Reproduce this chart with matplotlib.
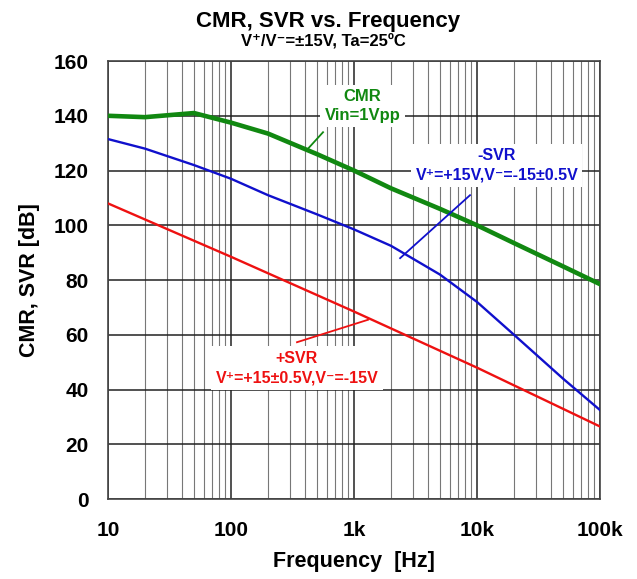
import matplotlib.pyplot as plt
from matplotlib.ticker import FixedLocator, NullFormatter

plt.rcParams["font.family"] = ["Liberation Sans", "DejaVu Sans"]

# Data
freq_cmr = [10, 20, 50, 100, 200, 500, 1000, 2000, 5000, 10000, 20000, 50000, 100000]
cmr = [140, 139.5, 141, 137.5, 133.5, 126, 120, 113.5, 106, 100, 93.5, 85, 78.5]

freq_nsvr = [10, 20, 50, 100, 200, 500, 1000, 2000, 5000, 10000, 20000, 50000, 100000]
nsvr = [131.5, 128, 122, 117, 111, 104, 98.5, 92.5, 82, 72, 60, 44, 32.5]

freq_psvr = [10, 100, 1000, 10000, 100000]
psvr = [108, 88.5, 68.5, 48, 26.5]

x_ticks = [10, 100, 1000, 10000, 100000]
x_labels = ["10", "100", "1k", "10k", "100k"]
y_ticks = [0, 20, 40, 60, 80, 100, 120, 140, 160]

fig = plt.figure(figsize=(6.37, 5.79), dpi=100)
ax = fig.add_axes([0.1695, 0.138, 0.7725, 0.7566])

ax.plot(freq_cmr, cmr, color="#118811", lw=3.3, zorder=3)
ax.plot(freq_nsvr, nsvr, color="#1010cc", lw=1.7, zorder=3)
ax.plot(freq_psvr, psvr, color="#ee1111", lw=1.7, zorder=3)

ax.set_xscale("log")
ax.set_xlim(10, 100000)
ax.set_ylim(0, 160)

ax.set_xticks(x_ticks)
ax.set_xticklabels(x_labels)
minor = [m * 10 ** e for e in range(1, 5) for m in range(2, 10)]
ax.xaxis.set_minor_locator(FixedLocator(minor))
ax.xaxis.set_minor_formatter(NullFormatter())
ax.set_yticks(y_ticks)

ax.grid(which="major", color="#222222", lw=1.1)
ax.grid(which="minor", axis="x", color="#777777", lw=0.8)
ax.tick_params(axis="x", which="both", length=0, pad=16)
ax.tick_params(axis="y", which="both", length=0, pad=14)
for lbl in ax.get_xticklabels() + ax.get_yticklabels():
    lbl.set_fontsize(15)
    lbl.set_fontweight("bold")
for s in ax.spines.values():
    s.set_color("#444444")
    s.set_linewidth(1.2)

ax.set_xlabel("Frequency  [Hz]", fontsize=15.5, fontweight="bold", labelpad=8)
ax.set_ylabel("CMR, SVR [dB]", fontsize=15.5, fontweight="bold", labelpad=10)

fig.text(0.515, 0.963, "CMR, SVR vs. Frequency", ha="center", va="center",
         fontsize=16, fontweight="bold")
fig.text(0.507, 0.93, "V⁺/V⁻=±15V, Ta=25ºC", ha="center", va="center",
         fontsize=12, fontweight="bold")

box = dict(facecolor="white", edgecolor="none", pad=3)

# CMR label
ax.plot([423, 560], [128, 134], color="#118811", lw=1.3, zorder=4)
ax.text(1170, 143.6, "CMR\nVin=1Vpp", ha="center", va="center", color="#118811",
        fontsize=12, fontweight="bold", bbox=box, zorder=5, linespacing=1.35)

# -SVR label
ax.plot([2370, 8770], [88, 111], color="#1010cc", lw=1.3, zorder=4)
ax.text(14500, 122, "-SVR\nV⁺=+15V,V⁻=-15±0.5V", ha="center", va="center",
        color="#1010cc", fontsize=11.5, fontweight="bold", bbox=box, zorder=5,
        linespacing=1.4)

# +SVR label
ax.plot([344, 1300], [57.3, 65.5], color="#ee1111", lw=1.3, zorder=4)
ax.text(344, 47.9, "+SVR\nV⁺=+15±0.5V,V⁻=-15V", ha="center", va="center",
        color="#ee1111", fontsize=11.5, fontweight="bold", bbox=box, zorder=5,
        linespacing=1.4)

fig.savefig("out.png", dpi=100)
